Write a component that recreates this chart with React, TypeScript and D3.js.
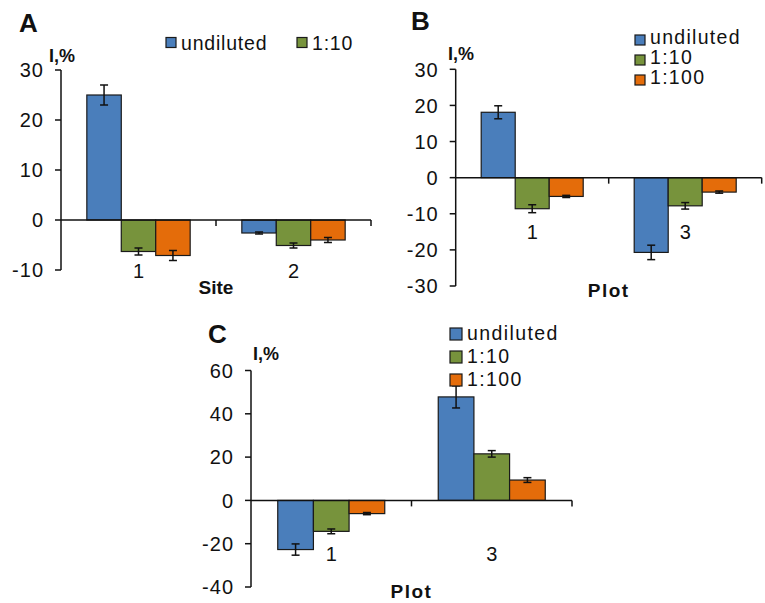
import React from 'react'
import * as d3 from 'd3'

// data
const series = ['undiluted', '1:10', '1:100']
const colors = ['#4a7ebb', '#77933c', '#e46c0a']

const catsA = ['1', '2']
const meansA = [[25, -6.3, -7.1], [-2.6, -5.1, -4.0]]
const errsA = [[2, 0.7, 1], [0.2, 0.5, 0.5]]
const ticksA = [-10, 0, 10, 20, 30]

const catsB = ['1', '3']
const meansB = [[18.1, -8.6, -5.2], [-20.7, -7.8, -4.0]]
const errsB = [[1.8, 1.1, 0.3], [2.0, 0.9, 0.3]]
const ticksB = [-30, -20, -10, 0, 10, 20, 30]

const catsC = ['1', '3']
const meansC = [[-22.7, -14.3, -6.1], [47.8, 21.5, 9.4]]
const errsC = [[2.6, 1.1, 0.5], [5.1, 1.5, 1.1]]
const ticksC = [-40, -20, 0, 20, 40, 60]

const font = '"Liberation Sans", Arial, sans-serif'

const Panel = ({ cfg, cats, means, errs, ticks }) => {
  const x = d3.scaleBand().domain(cats).range([cfg.left, cfg.right]).padding(0)
  const sub = d3.scaleBand().domain(series).range([0, x.bandwidth()])
    .paddingInner(0).paddingOuter(0.75)
  const y = d3.scaleLinear().domain(d3.extent(ticks)).range([cfg.bottom, cfg.top])
  const y0 = y(0)
  const lg = cfg.legend

  return (
    <g fontFamily={font}>
      {/* bars */}
      {cats.map((c, i) => series.map((s, j) => {
        const v = means[i][j]
        const bx = x(c) + sub(s)
        return (
          <rect key={c + s} x={bx} y={Math.min(y(v), y0)} width={sub.bandwidth()}
            height={Math.abs(y(v) - y0)} fill={colors[j]} stroke="#1a1a1a" strokeWidth={1.2} />
        )
      }))}
      {/* error bars */}
      {cats.map((c, i) => series.map((s, j) => {
        const v = means[i][j], e = errs[i][j]
        const cx = x(c) + sub(s) + sub.bandwidth() / 2
        return (
          <g key={'e' + c + s} stroke="#111" strokeWidth={1.5}>
            <line x1={cx} x2={cx} y1={y(v - e)} y2={y(v + e)} />
            <line x1={cx - 4} x2={cx + 4} y1={y(v - e)} y2={y(v - e)} />
            <line x1={cx - 4} x2={cx + 4} y1={y(v + e)} y2={y(v + e)} />
          </g>
        )
      }))}
      {/* y axis */}
      <line x1={cfg.left} x2={cfg.left} y1={y(ticks[0])} y2={y(ticks[ticks.length - 1])} stroke="#111" strokeWidth={1.5} />
      {ticks.map(t => (
        <g key={'t' + t}>
          <line x1={cfg.left - 6} x2={cfg.left} y1={y(t)} y2={y(t)} stroke="#111" strokeWidth={1.5} />
          <text x={cfg.left - 17} y={y(t)} dy="0.36em" textAnchor="end" fontSize={20}
            letterSpacing={1} fill="#111">{t}</text>
        </g>
      ))}
      {/* x axis at zero */}
      <line x1={cfg.left} x2={cfg.right} y1={y0} y2={y0} stroke="#111" strokeWidth={1.5} />
      {cats.map(c => (
        <line key={'xt' + c} x1={x(c) + x.bandwidth()} x2={x(c) + x.bandwidth()} y1={y0} y2={y0 + 6}
          stroke="#111" strokeWidth={1.5} />
      ))}
      {cats.map(c => (
        <text key={'c' + c} x={x(c) + x.bandwidth() / 2} y={cfg.catY} textAnchor="middle"
          fontSize={20} fill="#111">{c}</text>
      ))}
      <text x={(cfg.left + cfg.right) / 2} y={cfg.titleY} textAnchor="middle" fontSize={19}
        fontWeight="bold" letterSpacing={cfg.titleSpacing} fill="#111">{cfg.axisTitle}</text>
      <text x={cfg.ylabX} y={cfg.ylabY} fontSize={18} fontWeight="bold" fill="#111">I,%</text>
      <text x={cfg.letterX} y={cfg.letterY} fontSize={26} fontWeight="bold" fill="#111">{cfg.letter}</text>
      {/* legend */}
      {lg.items.map((j, k) => {
        const lx = lg.xs[k], ly = lg.ys[k]
        return (
          <g key={'l' + j}>
            <rect x={lx} y={ly} width={lg.size} height={lg.size} fill={colors[j]} stroke="#1a1a1a" strokeWidth={1.2} />
            <text x={lx + lg.size + 5} y={ly + lg.base} fontSize={19.5} letterSpacing={lg.spacing}
              fill="#111">{series[j]}</text>
          </g>
        )
      })}
    </g>
  )
}

const cfgA = {
  left: 61, right: 371, top: 70, bottom: 270, catY: 278, titleY: 293.5, axisTitle: 'Site',
  titleSpacing: 0, ylabX: 49, ylabY: 61.5, letter: 'A', letterX: 19, letterY: 32,
  legend: { items: [0, 1], xs: [166, 297], ys: [37.5, 37.5], size: 10, base: 12.5, spacing: 0.8 },
}
const cfgB = {
  left: 455.7, right: 761.7, top: 69.3, bottom: 286, catY: 239, titleY: 297, axisTitle: 'Plot',
  titleSpacing: 1.5, ylabX: 448, ylabY: 60, letter: 'B', letterX: 411, letterY: 30,
  legend: { items: [0, 1, 2], xs: [635, 635, 635], ys: [35, 55, 75], size: 10, base: 8.5, spacing: 1.3 },
}
const cfgC = {
  left: 251, right: 572, top: 370.5, bottom: 587, catY: 561, titleY: 598, axisTitle: 'Plot',
  titleSpacing: 1.5, ylabX: 253, ylabY: 360, letter: 'C', letterX: 208, letterY: 343,
  legend: { items: [0, 1, 2], xs: [450, 450, 450], ys: [328, 351, 374], size: 12, base: 12, spacing: 1.4 },
}

export default function App() {
  return (
    <svg width={765} height={603} style={{ position: 'absolute', left: 0, top: 0, background: '#fff' }}>
      <Panel cfg={cfgA} cats={catsA} means={meansA} errs={errsA} ticks={ticksA} />
      <Panel cfg={cfgB} cats={catsB} means={meansB} errs={errsB} ticks={ticksB} />
      <Panel cfg={cfgC} cats={catsC} means={meansC} errs={errsC} ticks={ticksC} />
    </svg>
  )
}
